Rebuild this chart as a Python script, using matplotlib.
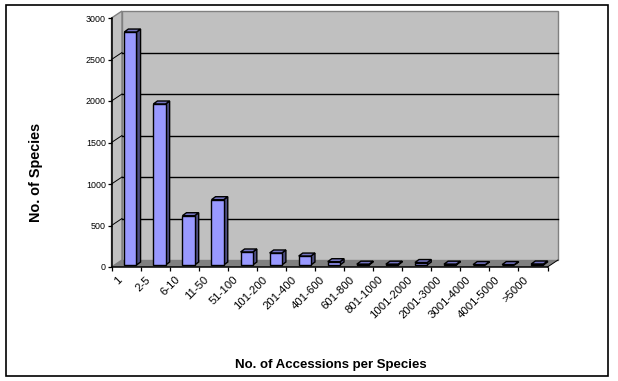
import numpy as np
from matplotlib import pyplot as plt
from matplotlib.patches import Rectangle

plt.rcParams['font.family'] = ['Liberation Sans', 'DejaVu Sans']

# values
Categories = ['1', '2-5', '6-10', '11-50', '51-100', '101-200', '201-400', '401-600',
              '601-800', '801-1000', '1001-2000', '2001-3000', '3001-4000', '4001-5000', '>5000']
Species = [2807, 1940, 594, 787, 157, 145, 108, 40, 10, 10, 30, 10, 5, 5, 12]
Y_Ticks = [0, 500, 1000, 1500, 2000, 2500, 3000]

# fake 3D depth, in data units
Wall_DX = 0.36
Wall_DY = 84
Bar_DX = 0.14
Bar_DY = 36
Bar_Start = 0.44
Bar_Width = 0.42
Bar_Base = 24

WIDTH, HEIGHT = 618, 381
fig = plt.figure(figsize=(WIDTH / 100, HEIGHT / 100), dpi=100, facecolor='white')

# outer chart frame
fig.add_artist(Rectangle((6 / WIDTH, 1 - 376 / HEIGHT), 602 / WIDTH, 371 / HEIGHT, transform=fig.transFigure,
                         facecolor='white', edgecolor='black', linewidth=1.2, zorder=-1))

ax = fig.add_axes([111.5 / WIDTH, 1 - 267 / HEIGHT, 436 / WIDTH, 249 / HEIGHT])
ax.patch.set_visible(False)
N = len(Categories)
ax.set_xlim(0, N)
ax.set_ylim(0, 3000)

# walls and floor
ax.fill([Wall_DX, N + Wall_DX, N + Wall_DX, Wall_DX], [Wall_DY, Wall_DY, 3000 + Wall_DY, 3000 + Wall_DY],
        facecolor='#C0C0C0', edgecolor='#808080', linewidth=1, clip_on=False, zorder=1)
ax.fill([0, Wall_DX, Wall_DX, 0], [0, Wall_DY, 3000 + Wall_DY, 3000],
        facecolor='#C0C0C0', edgecolor='#808080', linewidth=1, clip_on=False, zorder=1)
ax.fill([0, N, N + Wall_DX, Wall_DX], [0, 0, Wall_DY, Wall_DY],
        facecolor='#808080', edgecolor='none', clip_on=False, zorder=1)
ax.plot([N, N + Wall_DX], [0, Wall_DY], color='black', linewidth=0.7, clip_on=False, zorder=2)

# gridlines run along the left wall and then the back wall
for t in Y_Ticks[1:-1]:
    ax.plot([0, Wall_DX], [t, t + Wall_DY], color='black', linewidth=0.7, clip_on=False, zorder=2)
    ax.plot([Wall_DX, N + Wall_DX], [t + Wall_DY, t + Wall_DY], color='black', linewidth=1,
            clip_on=False, zorder=2)

for i, v in enumerate(Species):
    x0 = i + Bar_Start
    x1 = x0 + Bar_Width
    y0 = Bar_Base
    y1 = Bar_Base + v
    ax.fill([x1, x1 + Bar_DX, x1 + Bar_DX, x1], [y0, y0 + Bar_DY, y1 + Bar_DY, y1],
            facecolor='#4D4D80', edgecolor='black', linewidth=1, clip_on=False, zorder=3)
    ax.fill([x0, x1, x1 + Bar_DX, x0 + Bar_DX], [y1, y1, y1 + Bar_DY, y1 + Bar_DY],
            facecolor='#7373BF', edgecolor='black', linewidth=1, clip_on=False, zorder=3)
    ax.fill([x0, x1, x1, x0], [y0, y0, y1, y1],
            facecolor='#9999FF', edgecolor='black', linewidth=1, clip_on=False, zorder=3)

for side in ['top', 'right']:
    ax.spines[side].set_visible(False)
for side in ['left', 'bottom']:
    ax.spines[side].set_linewidth(1.1)
    ax.spines[side].set_zorder(4)

ax.set_yticks(Y_Ticks)
ax.tick_params(axis='y', length=3, width=0.9, pad=1, labelsize=6.4)
ax.set_xticks(np.arange(N + 1))
ax.set_xticklabels([])
ax.tick_params(axis='x', which='major', length=3, width=0.9)
# the rotated labels end a little left of each category's middle
ax.set_xticks(np.arange(N) + 0.3, Categories, minor=True, rotation=45, ha='right', va='center',
              rotation_mode='anchor')
ax.tick_params(axis='x', which='minor', length=0, pad=8, labelsize=8.2)

fig.text(331 / WIDTH, 1 - 365 / HEIGHT, 'No. of Accessions per Species', ha='center', va='center',
         fontsize=9.5, fontweight='bold')
fig.text(36 / WIDTH, 1 - 172 / HEIGHT, 'No. of Species', ha='center', va='center', rotation=90,
         fontsize=10.4, fontweight='bold')

fig.savefig('out.png', dpi=100)
